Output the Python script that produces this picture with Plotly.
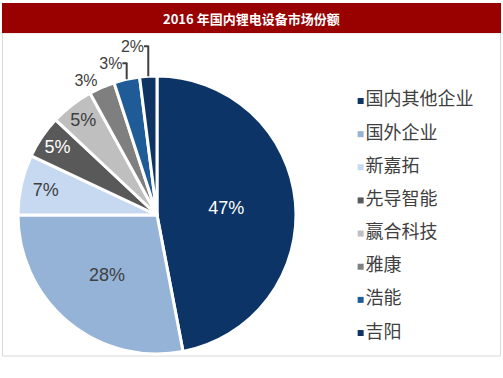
import plotly.graph_objects as go

labels = ["国内其他企业", "国外企业", "新嘉拓", "先导智能", "赢合科技", "雅康", "浩能", "吉阳"]
values = [47, 28, 7, 5, 5, 3, 3, 2]
text_labels = ["47%", "28%", "7%", "5%", "5%", "3%", "3%", "2%"]
colors = ["#0c3466", "#95b3d7", "#c6d9f1", "#595959", "#bfbfbf", "#7f7f7f", "#1f5b96", "#0f3464"]
text_colors = ["white", "#404040", "#404040", "white", "#404040", "#404040", "#404040", "#404040"]
text_pos = ["inside", "inside", "inside", "inside", "inside", "outside", "outside", "outside"]
title = "2016 年国内锂电设备市场份额"

W, H = 503, 378

fig = go.Figure()
fig.add_trace(go.Pie(
    labels=labels, values=values, text=text_labels, textinfo="text",
    sort=False, direction="clockwise", rotation=0,
    marker=dict(colors=colors, line=dict(color="white", width=3)),
    textposition=text_pos, insidetextorientation="horizontal",
    textfont=dict(family="Liberation Sans, Arial", size=18, color=text_colors),
    outsidetextfont=dict(family="Liberation Sans, Arial", size=16, color="#404040"),
    domain=dict(x=[(157 - 139) / W, (157 + 139) / W], y=[1 - 354 / H, 1 - 76 / H]),
    showlegend=False, hoverinfo="label+percent",
))

# custom legend drawn as a scatter on its own axes
fig.add_trace(go.Scatter(
    x=[0] * len(labels), y=labels, mode="markers+text",
    marker=dict(symbol="square", size=6, color=colors),
    text=labels, textposition="middle right",
    textfont=dict(family="Noto Sans CJK SC", size=18, color="#404040"),
    showlegend=False, hoverinfo="skip", cliponaxis=False,
))

fig.update_layout(
    width=W, height=H,
    margin=dict(l=0, r=0, t=0, b=0),
    paper_bgcolor="white", plot_bgcolor="rgba(0,0,0,0)",
    xaxis=dict(domain=[0.70, 1.0], range=[-0.06, 1], visible=False, fixedrange=True),
    yaxis=dict(domain=[1 - 349.6 / H, 1 - 84.4 / H], range=[len(labels) - 0.5, -0.5],
               type="category", visible=False, fixedrange=True),
    shapes=[
        dict(type="rect", xref="paper", yref="paper", x0=2.5 / W, x1=500.5 / W,
             y0=1 - 356 / H, y1=1 - 33 / H, line=dict(color="#d9d9d9", width=1),
             fillcolor="rgba(0,0,0,0)", layer="below"),
        dict(type="rect", xref="paper", yref="paper", x0=2 / W, x1=501 / W,
             y0=1 - 33 / H, y1=1 - 3 / H, line=dict(width=0), fillcolor="#990000",
             layer="below"),
    ],
    annotations=[
        dict(text="<b>" + title + "</b>", xref="paper", yref="paper", x=251.5 / W, y=1 - 18 / H,
             xanchor="center", yanchor="middle", showarrow=False,
             font=dict(family="Noto Sans CJK SC", size=13, color="white")),
    ],
)

fig.write_html("out.html", config={"displayModeBar": False},
               post_script="document.body.style.margin='0';document.body.style.overflow='hidden';")
